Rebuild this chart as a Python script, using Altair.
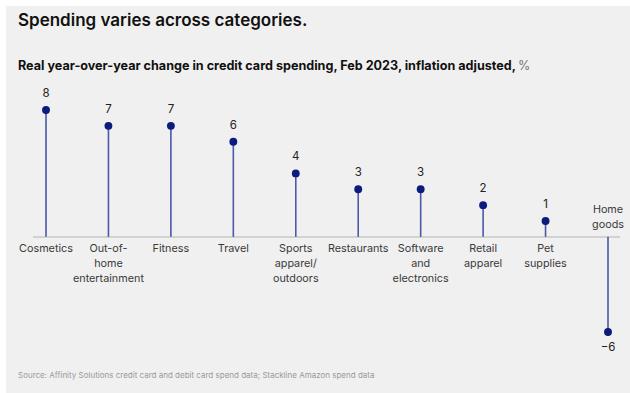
import altair as alt
import pandas as pd

categories = ["Cosmetics", "Out-of-home entertainment", "Fitness", "Travel",
              "Sports apparel/ outdoors", "Restaurants", "Software and electronics",
              "Retail apparel", "Pet supplies", "Home goods"]
label_lines = ["Cosmetics", "Out-of-\nhome\nentertainment", "Fitness", "Travel",
               "Sports\napparel/\noutdoors", "Restaurants", "Software\nand\nelectronics",
               "Retail\napparel", "Pet\nsupplies", "Home\ngoods"]
values = [8, 7, 7, 6, 4, 3, 3, 2, 1, -6]

title_text = "Spending varies across categories."
subtitle_text = "Real year-over-year change in credit card spending, Feb 2023, inflation adjusted,"
unit_text = "%"
source_text = "Source: Affinity Solutions credit card and debit card spend data; Stackline Amazon spend data"

df = pd.DataFrame({"category": categories, "label": label_lines, "value": values})
df["zero"] = 0
df["vlabel"] = [("\u2212" + str(-v)) if v < 0 else str(v) for v in values]

FONT = "Inter"
W, H = 630, 393

xs = alt.X("category:N", sort=categories, axis=None,
           scale=alt.Scale(type="point", domain=categories, range=[46, 608], padding=0))
yscale = alt.Scale(domain=[-6, 8], range=[332, 110])
ys = alt.Y("value:Q", axis=None, scale=yscale)
yzero = alt.Y("zero:Q", scale=yscale, axis=None)

base = alt.Chart(df)

panel = base.mark_rect(color="#f0f0f0").encode(
    x=alt.value(6), x2=alt.value(W), y=alt.value(6), y2=alt.value(H))

axis_line = base.mark_rule(color="#d2d2d2", strokeWidth=1.5).encode(
    x=alt.value(33), x2=alt.value(620), y=yzero)

stems = base.mark_rule(color="#4a58a6", strokeWidth=1.6).encode(
    x=xs, y=ys, y2="zero:Q")

dots = base.mark_circle(color="#0b1c7c", opacity=1, size=62).encode(x=xs, y=ys)

pos_labels = base.transform_filter("datum.value >= 0").mark_text(
    font=FONT, fontSize=11.5, color="#222222", dy=-16, baseline="middle").encode(
    x=xs, y=ys, text="vlabel:N")
neg_labels = base.transform_filter("datum.value < 0").mark_text(
    font=FONT, fontSize=11.5, color="#222222", dy=16, baseline="middle").encode(
    x=xs, y=ys, text="vlabel:N")

cat_pos = base.transform_filter("datum.value >= 0").mark_text(
    font=FONT, fontSize=10.8, color="#3a3a3a", baseline="middle", dy=12,
    lineBreak="\n", lineHeight=15).encode(x=xs, y=yzero, text="label:N")
cat_neg = base.transform_filter("datum.value < 0").mark_text(
    font=FONT, fontSize=10.8, color="#3a3a3a", baseline="middle", dy=-27,
    lineBreak="\n", lineHeight=15).encode(x=xs, y=yzero, text="label:N")

txt = alt.Chart(pd.DataFrame({"t": [title_text]}))
title = txt.mark_text(font=FONT, fontSize=17, fontWeight=600, color="#111111",
                      align="left", baseline="middle").encode(
    x=alt.value(18), y=alt.value(21), text=alt.value(title_text))
subtitle = txt.mark_text(font=FONT, fontSize=12.6, fontWeight="bold", color="#111111",
                         align="left", baseline="middle").encode(
    x=alt.value(18), y=alt.value(66), text=alt.value(subtitle_text))
unit = txt.mark_text(font=FONT, fontSize=12.6, color="#777777",
                     align="left", baseline="middle").encode(
    x=alt.value(518), y=alt.value(66), text=alt.value(unit_text))
source = txt.mark_text(font=FONT, fontSize=8, color="#9a9a9a",
                       align="left", baseline="middle").encode(
    x=alt.value(18), y=alt.value(376), text=alt.value(source_text))

chart = alt.layer(panel, axis_line, stems, dots, pos_labels, neg_labels, cat_pos, cat_neg,
                  title, subtitle, unit, source).properties(
    width=W, height=H, padding=0, autosize=alt.AutoSizeParams(type="none"),
    background="#ffffff"
).configure_view(stroke=None)

chart.save("out.html", embed_options={"renderer": "svg", "actions": False})
